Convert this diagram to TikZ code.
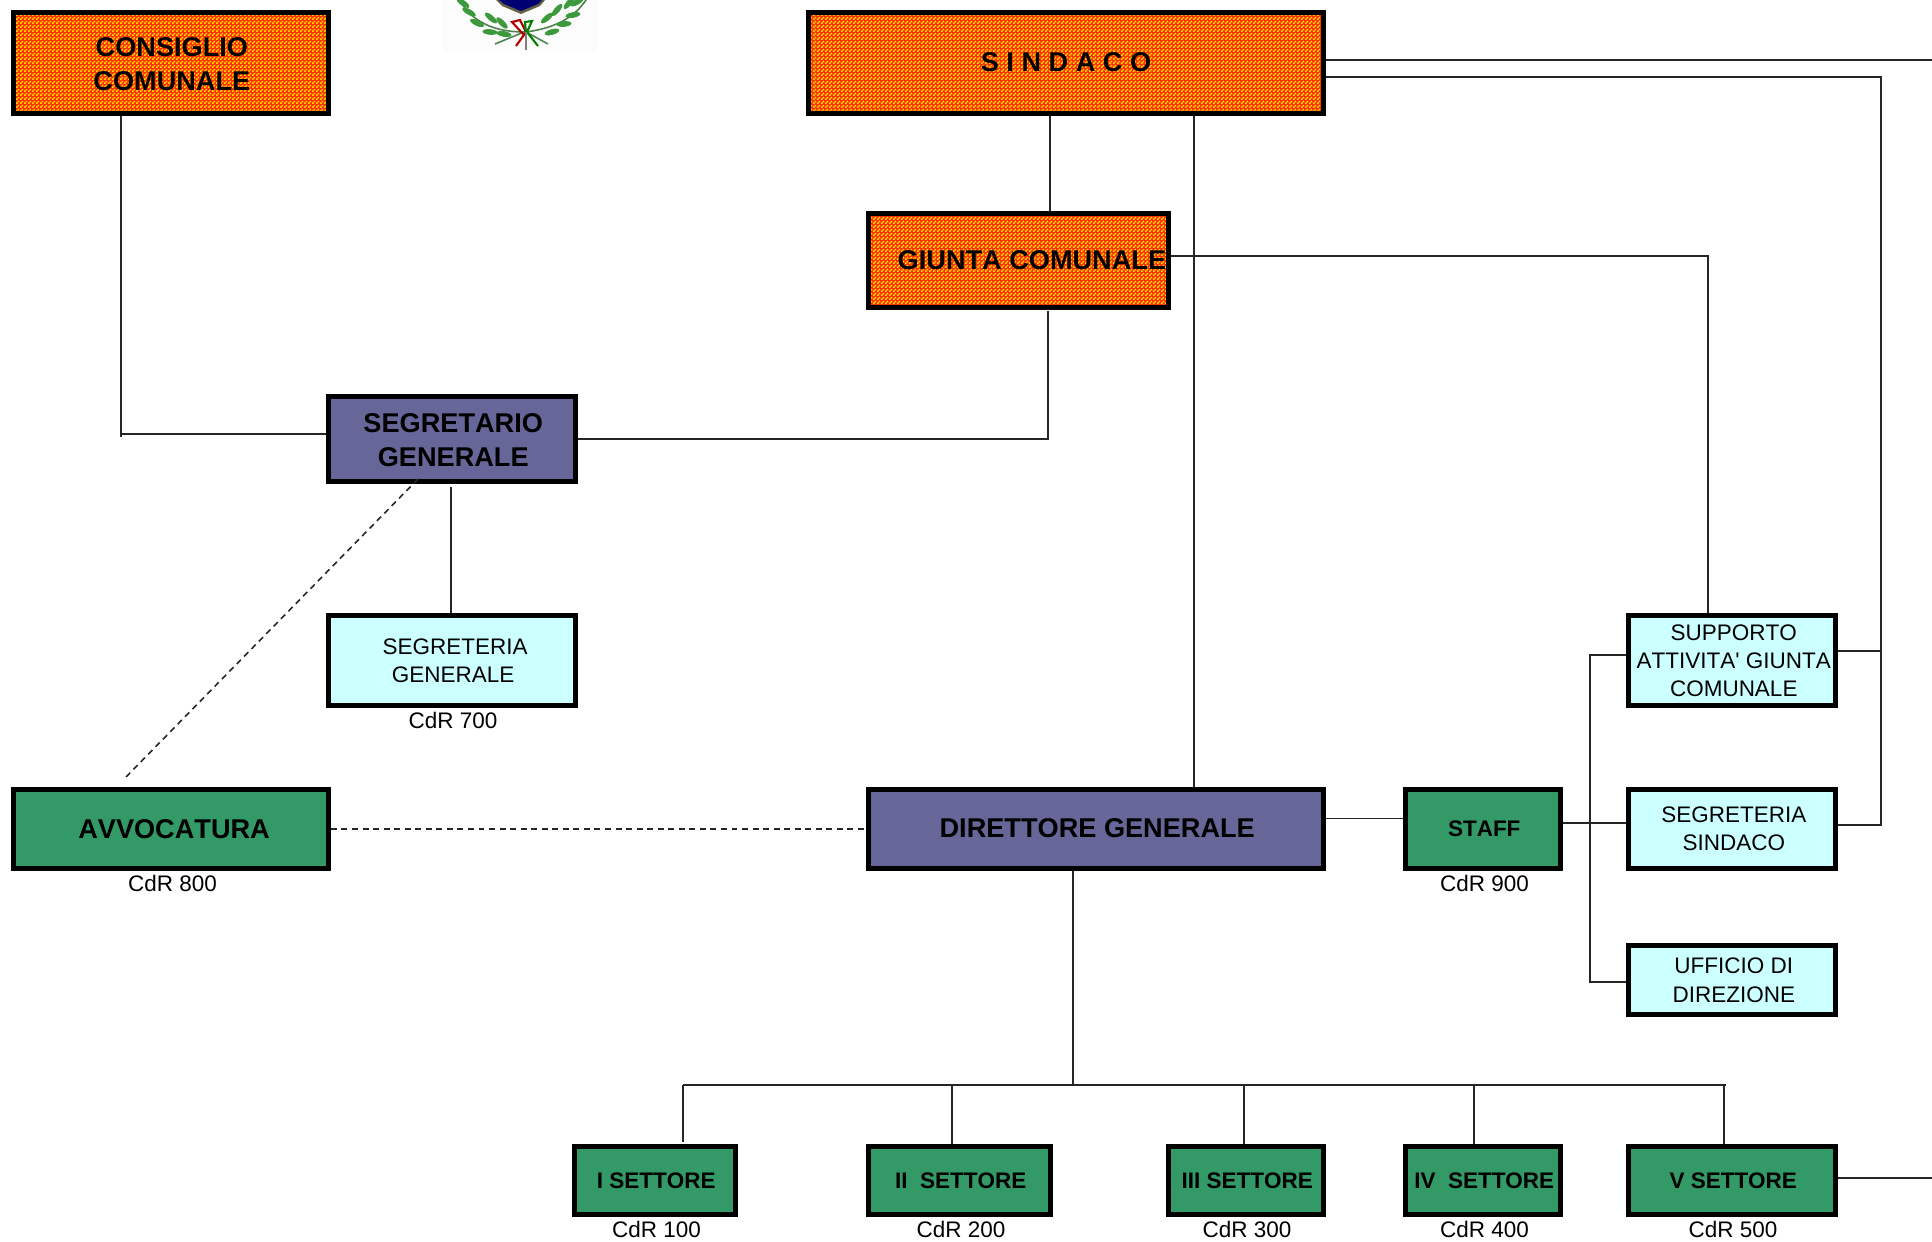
\documentclass[tikz,border=0pt]{standalone}
\usepackage{fontspec}
\setmainfont{Liberation Sans}[Ligatures=TeXOff,Kerning=Off]
\usetikzlibrary{patterns}
\definecolor{chkred}{HTML}{FF3000}
\definecolor{chkyellow}{HTML}{FFE800}
\definecolor{bluebox}{HTML}{666699}
\definecolor{greenbox}{HTML}{339966}
\definecolor{cyanbox}{HTML}{CCFFFF}
\definecolor{leafgreen}{HTML}{3C9A3C}
\pgfdeclarepatternformonly{orangecheck}{\pgfqpoint{0pt}{0pt}}{\pgfqpoint{2.28pt}{2.28pt}}{\pgfqpoint{2.28pt}{2.28pt}}{
\pgfpathrectangle{\pgfqpoint{0pt}{0pt}}{\pgfqpoint{1.14pt}{1.14pt}}
\pgfpathrectangle{\pgfqpoint{1.14pt}{1.14pt}}{\pgfqpoint{1.14pt}{1.14pt}}
\pgfusepath{fill}}
\newcommand{\nudge}[3]{\hspace*{#1}\raisebox{#2}[\height][\depth]{#3}}
\tikzset{
box/.style={draw=black,line width=2.8pt,inner sep=0pt,align=center},
bigtext/.style={font=\fontsize{15.45}{19.3}\selectfont\bfseries},
smalltext/.style={font=\fontsize{12.8}{15.9}\selectfont},
midtext/.style={font=\fontsize{12.8}{15.9}\selectfont\bfseries},
orangebox/.style={box,bigtext,preaction={fill=chkred},pattern=orangecheck,pattern color=chkyellow},
purplebox/.style={box,bigtext,fill=bluebox},
greenbig/.style={box,bigtext,fill=greenbox},
greenmid/.style={box,midtext,fill=greenbox},
cyan box/.style={box,smalltext,fill=cyanbox},
cdr/.style={font=\fontsize{12.8}{15}\selectfont,inner sep=0pt},
wire/.style={line width=0.9pt,black!85},
dashwire/.style={wire,dash pattern=on 3.4pt off 2.6pt}
}
\begin{document}
\begin{tikzpicture}[x=0.02cm,y=-0.02cm]
\useasboundingbox (0,0) rectangle (1932,1241);

\fill[black!1] (443,0) rectangle (597,52);
\fill[black!70!yellow] (496,0) -- (545,0) -- (540,6) -- (521,14) -- (502,6) -- cycle;
\fill[blue!45!black] (499,0) -- (542,0) -- (538,4) -- (521,11) -- (504,4) -- cycle;
\draw[black!45!green!40!gray,line width=0.9pt] (458,-3) .. controls (470,22) and (495,32) .. (524,32) -- (495,44);
\draw[black!45!green!40!gray,line width=0.9pt] (588,-3) .. controls (575,18) and (555,28) .. (526,32) -- (548,44);
\foreach \leafx/\leafy/\leafr in {463/3/-35,469/12/-30,477/23/-25,491/18/-40,502/23/-45,490/32/-5,504/34/-10,
547/18/40,557/10/50,573/15/10,564/24/5,552/32/15,577/2/30,569/3/50}
\fill[leafgreen] (\leafx,\leafy) ellipse [x radius=7.5,y radius=2.8,rotate=\leafr];
\draw[red!70!black,line width=1.2pt] (523,34) -- (512,22) -- (520,20) -- (526,32) -- (516,46);
\draw[green!50!black,line width=1.2pt] (526,34) -- (525,22) -- (532,21) -- (527,32) -- (538,46);
\draw[gray,line width=0.9pt] (526,32) -- (526,50);

\node[orangebox,minimum width=6.3cm,minimum height=2.02cm] (consiglio) at (171,63) {\nudge{1pt}{-0.7pt}{CONSIGLIO}\\\nudge{1pt}{-0.7pt}{COMUNALE}};
\node[orangebox,minimum width=10.3cm,minimum height=2.02cm] (sindaco) at (1066,63) {\nudge{0pt}{0.7pt}{S I N D A C O}};
\node[orangebox,minimum width=6cm,minimum height=1.88cm] (giunta) at (1018.5,260.5) {\hspace*{15.3pt}GIUNTA COMUNALE};
\node[purplebox,minimum width=4.94cm,minimum height=1.7cm] (segretario) at (452,439) {\nudge{1.4pt}{-0.7pt}{SEGRETARIO}\\\nudge{1.4pt}{-0.7pt}{GENERALE}};
\node[cyan box,minimum width=4.94cm,minimum height=1.8cm] (seggenerale) at (452,660.5) {\nudge{3.5pt}{0pt}{SEGRETERIA}\\\nudge{1.4pt}{0pt}{GENERALE}};
\node[greenbig,minimum width=6.3cm,minimum height=1.58cm] (avvocatura) at (171,829) {\nudge{3.5pt}{0pt}{AVVOCATURA}};
\node[purplebox,minimum width=9.1cm,minimum height=1.58cm] (direttore) at (1096,829) {\nudge{1.4pt}{0.7pt}{DIRETTORE GENERALE}};
\node[greenmid,minimum width=3.1cm,minimum height=1.58cm] (staff) at (1483,829) {\nudge{1.4pt}{0pt}{STAFF}};
\node[cyan box,minimum width=4.14cm,minimum height=1.8cm] (supporto) at (1732,660.5) {\nudge{2pt}{0pt}{SUPPORTO}\\\nudge{2pt}{0pt}{ATTIVITA' GIUNTA}\\\nudge{2pt}{0pt}{COMUNALE}};
\node[cyan box,minimum width=4.14cm,minimum height=1.58cm] (segsindaco) at (1732,829) {\nudge{2pt}{0pt}{SEGRETERIA}\\\nudge{2pt}{0pt}{SINDACO}};
\node[cyan box,minimum width=4.14cm,minimum height=1.38cm] (ufficio) at (1732,980) {\nudge{2pt}{0pt}{UFFICIO DI}\\\nudge{2pt}{-0.7pt}{DIREZIONE}};
\node[greenmid,minimum width=3.22cm,minimum height=1.36cm] (settore1) at (655,1180.5) {\nudge{1.4pt}{0pt}{I SETTORE}};
\node[greenmid,minimum width=3.64cm,minimum height=1.36cm] (settore2) at (959.5,1180.5) {\nudge{1.4pt}{0pt}{II\ \ SETTORE}};
\node[greenmid,minimum width=3.1cm,minimum height=1.36cm] (settore3) at (1246,1180.5) {\nudge{1.4pt}{0pt}{III SETTORE}};
\node[greenmid,minimum width=3.1cm,minimum height=1.36cm] (settore4) at (1483,1180.5) {\nudge{1.4pt}{0pt}{IV\ \ SETTORE}};
\node[greenmid,minimum width=4.14cm,minimum height=1.36cm] (settore5) at (1732,1180.5) {\nudge{1.4pt}{0pt}{V SETTORE}};

\node[cdr] (cdr700) at (453,720) {CdR 700};
\node[cdr] (cdr800) at (172.5,883) {CdR 800};
\node[cdr] (cdr900) at (1484.5,883) {CdR 900};
\node[cdr] (cdr100) at (656.5,1229) {CdR 100};
\node[cdr] (cdr200) at (961,1229) {CdR 200};
\node[cdr] (cdr300) at (1247,1229) {CdR 300};
\node[cdr] (cdr400) at (1484.5,1229) {CdR 400};
\node[cdr] (cdr500) at (1733,1229) {CdR 500};

\coordinate (consbend) at (121,434);
\coordinate (consstub) at (121,437);
\coordinate (sindacogiunta) at (1050,160);
\coordinate (sindacodir) at (1194,450);
\coordinate (topout) at (1932,60);
\coordinate (rightbend) at (1881,77);
\coordinate (giuntabend) at (1708,256);
\coordinate (giuntadrop) at (1048,439);
\coordinate (segdrop) at (451,550);
\coordinate (dashtop) at (418,479);
\coordinate (dashend) at (123,780);
\coordinate (staffbus) at (1590,823);
\coordinate (dirdrop) at (1073,1085);
\coordinate (busleft) at (683,1085);
\coordinate (busright) at (1726,1085);
\coordinate (drop2) at (952,1085);
\coordinate (drop3) at (1244,1085);
\coordinate (drop4) at (1474,1085);
\coordinate (drop5) at (1724,1085);
\coordinate (bottomout) at (1932,1178);

\draw[wire] (consiglio.south -| consstub) -- (consstub);
\draw[wire] (consbend) -- (segretario.west |- consbend);
\draw[wire] (sindaco.south -| sindacogiunta) -- (giunta.north -| sindacogiunta);
\draw[wire] (sindaco.south -| sindacodir) -- (direttore.north -| sindacodir);
\draw[wire] (sindaco.east |- topout) -- (topout);
\draw[wire] (sindaco.east |- rightbend) -- (rightbend) -- ([yshift=2.2pt]segsindaco.east -| rightbend) -- ([yshift=2.2pt]segsindaco.east);
\draw[wire] ([yshift=5.4pt]supporto.east) -- ([yshift=5.4pt]supporto.east -| rightbend);
\draw[wire] (giunta.east |- giuntabend) -- (giuntabend) -- (supporto.north -| giuntabend);
\draw[wire] ([yshift=-0.8pt]giunta.south -| giuntadrop) -- (giuntadrop) -- (segretario.east);
\draw[wire] ([yshift=-1.7pt]segretario.south -| segdrop) -- (seggenerale.north -| segdrop);
\draw[dashwire] (dashtop) -- (dashend);
\draw[dashwire] (avvocatura.east) -- (direttore.west);
\draw[wire] ([yshift=6pt]direttore.east) -- ([yshift=6pt]staff.west);
\draw[wire] (staff.east |- staffbus) -- (segsindaco.west |- staffbus);
\draw[wire] ([yshift=3pt]supporto.west) -- ([yshift=3pt]supporto.west -| staffbus) -- ([yshift=-1.1pt]ufficio.west -| staffbus) -- ([yshift=-1.1pt]ufficio.west);
\draw[wire] (direttore.south -| dirdrop) -- (dirdrop);
\draw[wire] (busleft) -- (busright);
\draw[wire] (busleft) -- ([yshift=1pt]settore1.north -| busleft);
\draw[wire] (drop2) -- (settore2.north -| drop2);
\draw[wire] (drop3) -- (settore3.north -| drop3);
\draw[wire] (drop4) -- (settore4.north -| drop4);
\draw[wire] (drop5) -- (settore5.north -| drop5);
\draw[wire] (settore5.east |- bottomout) -- (bottomout);
\end{tikzpicture}
\end{document}
